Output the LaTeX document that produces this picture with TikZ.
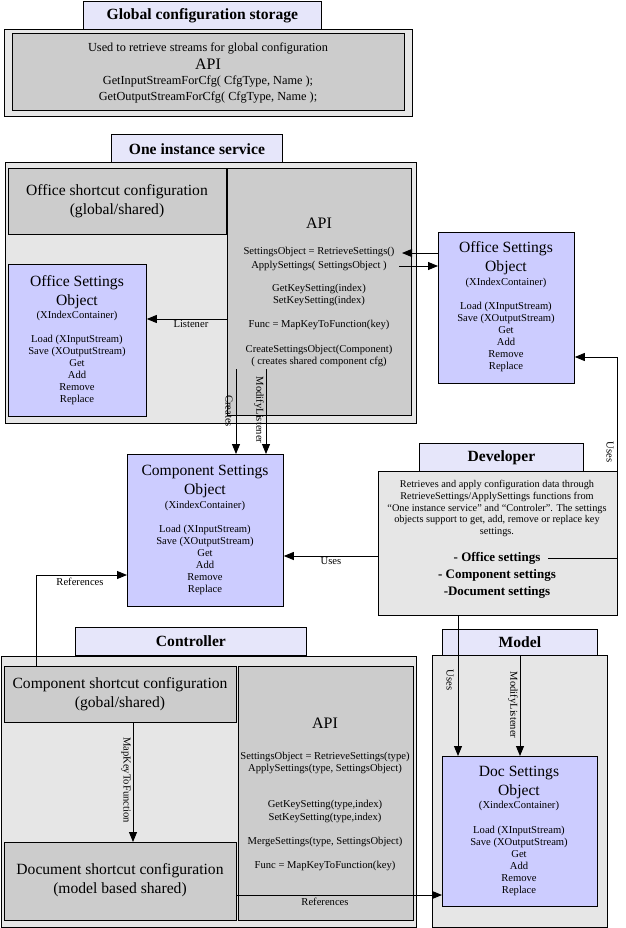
\documentclass[tikz,border=0pt]{standalone}
\usepackage{fontspec}
\setmainfont{Liberation Serif}
\usetikzlibrary{arrows.meta}
\definecolor{tabc}{RGB}{230,230,250}
\definecolor{outc}{RGB}{230,230,230}
\definecolor{grayc}{RGB}{204,204,204}
\definecolor{objc}{RGB}{204,204,255}
\newcommand{\fsmall}{\fontsize{10.6}{12.1}\selectfont}
\newcommand{\fmid}{\fontsize{12.3}{16}\selectfont}
\newcommand{\fbig}{\fontsize{15.6}{19}\selectfont}
\newcommand{\fapi}{\fontsize{16}{19}\selectfont}
\newcommand{\ftab}{\fontsize{15.6}{17}\selectfont\bfseries}
\newcommand{\fdev}{\fontsize{13}{17}\selectfont\bfseries}
\begin{document}
\begin{tikzpicture}[x=1pt,y=-1pt,
  box/.style={draw=black, line width=0.8pt, inner sep=0pt, anchor=north west},
  tabbox/.style={box, fill=tabc},
  outbox/.style={box, fill=outc},
  graybox/.style={box, fill=grayc},
  objbox/.style={box, fill=objc},
  txt/.style={inner sep=0pt, align=center},
  arr/.style={draw=black, line width=0.9pt, -{Triangle[length=10pt,width=8pt]}},
  lbl/.style={inner sep=1pt, font=\fsmall},
  vlbl/.style={inner sep=0pt, font=\fsmall, rotate=-90}]
\useasboundingbox (0,0) rectangle (625,928);
\fill[white] (0,0) rectangle (625,928);

% ---------- Global configuration storage ----------
\node[tabbox, minimum width=238pt, minimum height=28pt] (gtab) at (83,1) {};
\node[txt, font=\ftab] (gtabt) at (gtab.center) {Global configuration storage};
\node[outbox, minimum width=408pt, minimum height=87pt] (gout) at (4,29) {};
\node[graybox, minimum width=392pt, minimum height=77pt] (gin) at (12,33) {};
\node[txt, font=\fmid] (g1) at (208,48) {Used to retrieve streams for global configuration};
\node[txt, font=\fapi] (g2) at (208,64) {API};
\node[txt, font=\fmid] (g3) at (208,81) {GetInputStreamForCfg( CfgType, Name );};
\node[txt, font=\fmid] (g4) at (208,97) {GetOutputStreamForCfg( CfgType, Name );};

% ---------- One instance service ----------
\node[tabbox, minimum width=171pt, minimum height=29pt] (itab) at (111,134) {};
\node[txt, font=\ftab] (itabt) at (itab.center) {One instance service};
\node[outbox, minimum width=411pt, minimum height=261pt] (iout) at (5,162) {};
\node[graybox, minimum width=218pt, minimum height=66pt] (osc) at (8,168) {};
\node[txt, font=\fbig] (osct) at (117,201.5) {Office shortcut configuration\\(global/shared)};
\node[graybox, minimum width=184pt, minimum height=247pt] (iapi) at (227,168) {};
\node[txt, font=\fapi] (ia0) at (319,223) {API};
\node[txt, font=\fsmall] (ia1) at (319,252) {SettingsObject = RetrieveSettings()};
\node[txt, font=\fsmall] (ia2) at (319,266) {ApplySettings( SettingsObject )};
\node[txt, font=\fsmall] (ia3) at (319,289) {GetKeySetting(index)};
\node[txt, font=\fsmall] (ia4) at (319,301) {SetKeySetting(index)};
\node[txt, font=\fsmall] (ia5) at (319,325) {Func = MapKeyToFunction(key)};
\node[txt, font=\fsmall] (ia6) at (319,350) {CreateSettingsObject(Component)};
\node[txt, font=\fsmall] (ia7) at (319,362) {( creates shared component cfg)};

% Office Settings Object (left)
\node[objbox, minimum width=138pt, minimum height=152pt] (oso1) at (8,264) {};
\node[txt, font=\fbig] (oso1t) at (77,292.5) {Office Settings\\Object};
\node[txt, font=\fsmall] (oso1s) at (77,316) {(XIndexContainer)};
\node[txt, font=\fsmall] (oso1l) at (77,370) {Load (XInputStream)\\Save (XOutputStream)\\Get\\Add\\Remove\\Replace};

% Office Settings Object (right)
\node[objbox, minimum width=136pt, minimum height=151pt] (oso2) at (438,232) {};
\node[txt, font=\fbig] (oso2t) at (506,258.5) {Office Settings\\Object};
\node[txt, font=\fsmall] (oso2s) at (506,283) {(XIndexContainer)};
\node[txt, font=\fsmall] (oso2l) at (506,337) {Load (XInputStream)\\Save (XOutputStream)\\Get\\Add\\Remove\\Replace};

% Component Settings Object
\node[objbox, minimum width=156pt, minimum height=152pt] (cso) at (127,454) {};
\node[txt, font=\fbig] (csot) at (205,481.5) {Component Settings\\Object};
\node[txt, font=\fsmall] (csos) at (205,506) {(XindexContainer)};
\node[txt, font=\fsmall] (csol) at (205,560) {Load (XInputStream)\\Save (XOutputStream)\\Get\\Add\\Remove\\Replace};

% ---------- Developer ----------
\node[tabbox, minimum width=164pt, minimum height=28pt] (dtab) at (419,443) {};
\node[txt, font=\ftab] (dtabt) at (dtab.center) {Developer};
\node[outbox, minimum width=239pt, minimum height=144pt] (dbox) at (378,471) {};
\node[txt, font=\fontsize{10.3}{11.8}\selectfont] (dtxt) at (497,508.5) {Retrieves and apply configuration data through\\RetrieveSettings/ApplySettings functions from\\“One instance service” and “Controler”. The settings\\objects support to get, add, remove or replace key\\settings.};
\node[txt, font=\fdev] (d1) at (497,558) {- Office settings};
\node[txt, font=\fdev] (d2) at (497,575) {- Component settings};
\node[txt, font=\fdev] (d3) at (497,592) {-Document settings};

% ---------- Controller ----------
\node[tabbox, minimum width=231pt, minimum height=28pt] (ctab) at (75,627) {};
\node[txt, font=\ftab] (ctabt) at (ctab.center) {Controller};
\node[outbox, minimum width=415pt, minimum height=271pt] (cout) at (1,656) {};
\node[graybox, minimum width=232pt, minimum height=56pt] (csc) at (4,666) {};
\node[txt, font=\fbig] (csct) at (120,694.5) {Component shortcut configuration\\(gobal/shared)};
\node[graybox, minimum width=232pt, minimum height=78pt] (dsc) at (4,842) {};
\node[txt, font=\fbig] (dsct) at (120,880.5) {Document shortcut configuration\\(model based shared)};
\node[graybox, minimum width=175pt, minimum height=254pt] (capi) at (238,666) {};
\node[txt, font=\fapi] (ca0) at (325,723) {API};
\node[txt, font=\fsmall] (ca1) at (325,757) {SettingsObject = RetrieveSettings(type)};
\node[txt, font=\fsmall] (ca2) at (325,769) {ApplySettings(type, SettingsObject)};
\node[txt, font=\fsmall] (ca3) at (325,805) {GetKeySetting(type,index)};
\node[txt, font=\fsmall] (ca4) at (325,818) {SetKeySetting(type,index)};
\node[txt, font=\fsmall] (ca5) at (325,842) {MergeSettings(type, SettingsObject)};
\node[txt, font=\fsmall] (ca6) at (325,866) {Func = MapKeyToFunction(key)};

% ---------- Model ----------
\node[tabbox, minimum width=155pt, minimum height=26pt] (mtab) at (442,629) {};
\node[txt, font=\ftab] (mtabt) at (mtab.center) {Model};
\node[outbox, minimum width=175pt, minimum height=272pt] (mout) at (432,655) {};
\node[objbox, minimum width=155pt, minimum height=150pt] (doso) at (442,756) {};
\node[txt, font=\fbig] (dosot) at (519,782.5) {Doc Settings\\Object};
\node[txt, font=\fsmall] (dosos) at (519,806) {(XindexContainer)};
\node[txt, font=\fsmall] (dosol) at (519,861) {Load (XInputStream)\\Save (XOutputStream)\\Get\\Add\\Remove\\Replace};

% ---------- Connectors ----------
\coordinate (rsend) at (402,253);
\coordinate (asend) at (399,266);
\coordinate (crs) at (236,369);
\coordinate (mls) at (266,369);
\coordinate (offs) at (548,558);

% Listener
\draw[arr] (iapi.west |- 0,319) -- node[lbl, below, pos=0.45] {Listener} (oso1.east |- 0,319);
% Retrieve / Apply
\draw[arr] (oso2.west |- rsend) -- (rsend);
\draw[arr] (asend) -- (oso2.west |- asend);
% Creates / ModifyListener
\draw[arr] (crs) -- (crs |- cso.north);
\node[vlbl] (crl) at (229,411) {Creates};
\draw[arr] (mls) -- (mls |- cso.north);
\node[vlbl] (mll) at (259,410) {ModifyListener};
% Developer uses Component settings
\draw[arr] (dbox.west |- 0,556) -- node[lbl, below] {Uses} (cso.east |- 0,556);
% Developer uses Office settings
\draw[arr] (offs) -- (617,558) -- (617,357) -- (oso2.east |- 0,357);
\node[vlbl] (dul) at (610,452) {Uses};
% References (component shortcut -> component settings)
\draw[arr] (36,0 |- csc.north) |- (cso.west |- 0,575);
\node[lbl] (ref1) at (80,582) {References};
% MapKeyToFunction
\draw[arr] (133,0 |- csc.south) -- (133,0 |- dsc.north);
\node[vlbl] (mkf) at (126,780) {MapKeyToFunction};
% References (document shortcut -> doc settings)
\draw[arr] (dsc.east |- 0,895) -- (doso.west |- 0,895);
\node[lbl] (ref2) at (325,902) {References};
% Developer uses Doc settings
\draw[arr] (458,0 |- dbox.south) -- (458,0 |- doso.north);
\node[vlbl] (mul) at (450,680) {Uses};
% Model ModifyListener
\draw[arr] (520,0 |- mtab.south) -- (520,0 |- doso.north);
\node[vlbl] (mml) at (513,705) {ModifyListener};
\end{tikzpicture}
\end{document}
